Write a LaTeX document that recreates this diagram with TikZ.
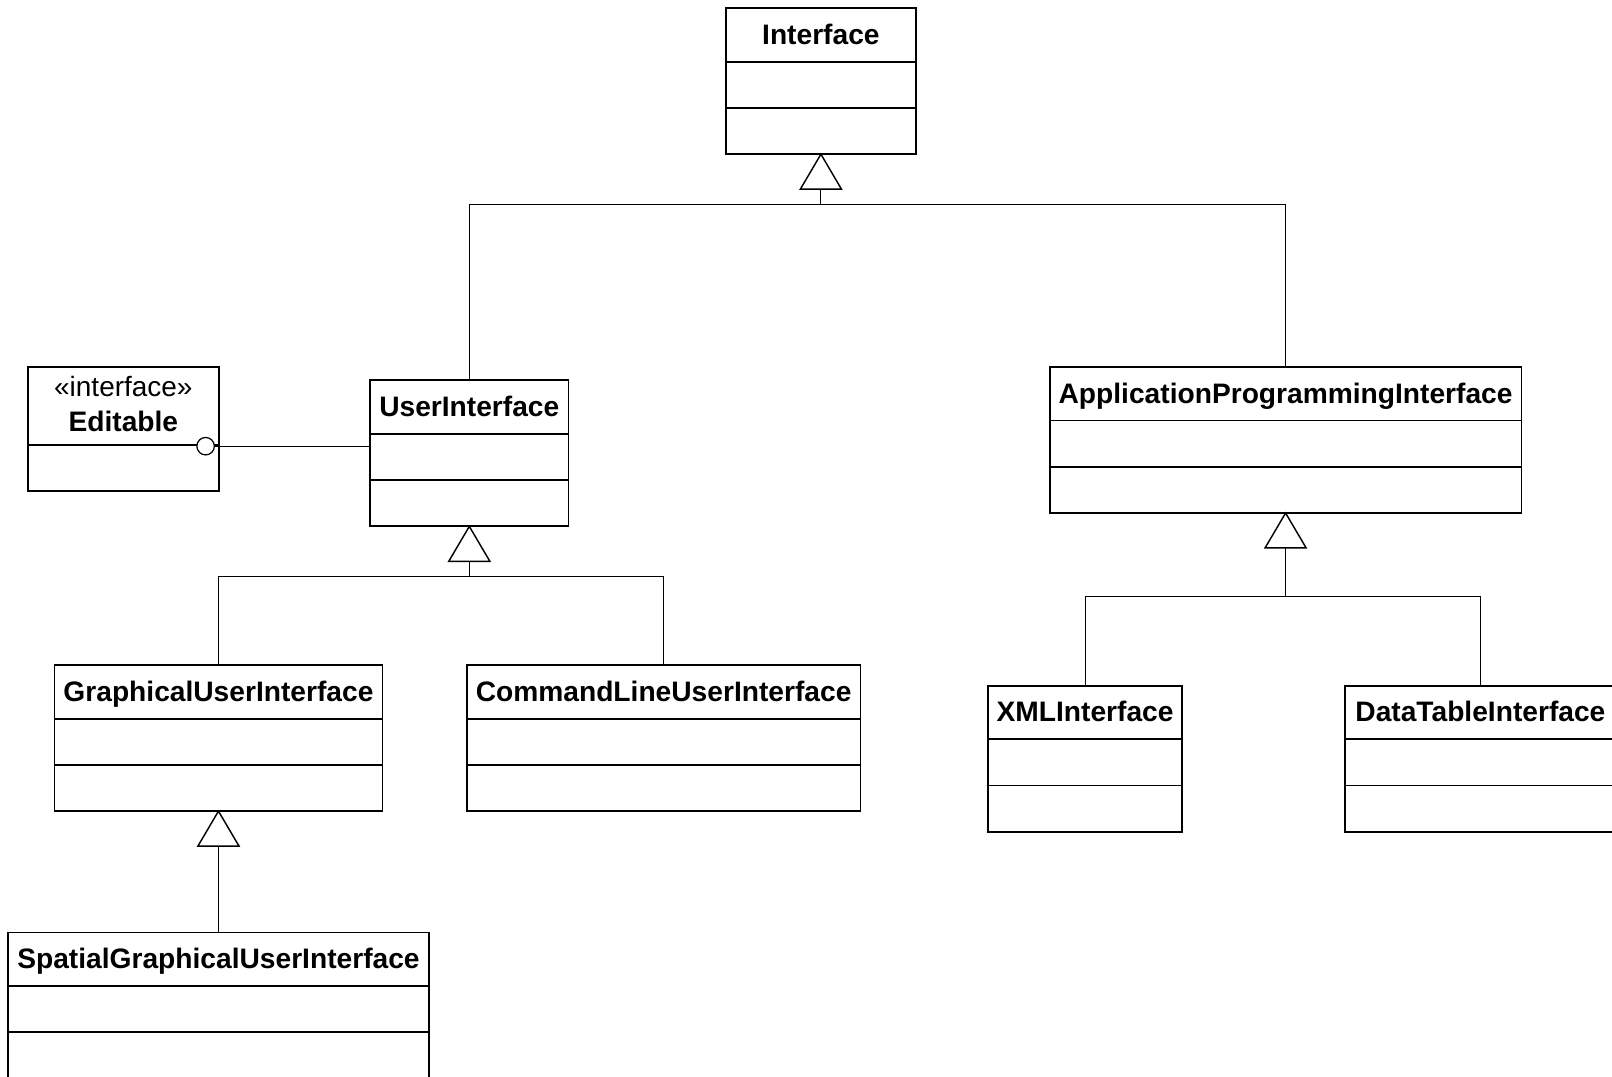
\documentclass[tikz,border=0pt]{standalone}
\usepackage{fontspec}
\setmainfont{Liberation Sans}
\usetikzlibrary{calc}
\tikzset{
  cls/.style={draw, line width=1.8pt, rectangle, inner sep=0pt, outer sep=0pt, anchor=north west, fill=white},
  ttl/.style={font=\fontsize{27.4}{32}\selectfont\bfseries, anchor=base, inner sep=0pt},
  stereo/.style={font=\fontsize{27.2}{32}\selectfont, anchor=base, inner sep=0pt},
  divider/.style={line width=1.8pt},
  conn/.style={line width=1pt},
  gen/.style={draw, line width=1.4pt, fill=white, line join=miter},
  lolly/.style={draw, circle, line width=1.2pt, fill=white, minimum size=17pt, inner sep=0pt, outer sep=0pt}
}
% \umlclass{id}{x1}{y1}{width}{title}
\newcommand\umlclass[5]{%
  \node[cls, minimum width=#4pt, minimum height=142pt] (#1) at (#2,#3) {};
  \draw[divider] ($(#1.north west)+(0,52)$) -- ($(#1.north east)+(0,52)$);
  \draw[divider] ($(#1.north west)+(0,97)$) -- ($(#1.north east)+(0,97)$);
  \node[ttl] (#1-t) at ($(#1.north)+(0,35)$) {#5};
}
% generalization triangle under a class
\newcommand\gentri[1]{%
  \draw[gen] (#1.south) -- ++(-20,34) -- ++(40,0) -- cycle;
  \coordinate (#1-b) at ($(#1.south)+(0,34)$);
}
\begin{document}
\begin{tikzpicture}[x=1pt, y=-1pt]
\useasboundingbox (0,0) rectangle (1568,1047);
\fill[white] (0,0) rectangle (1568,1047);

\umlclass{iface}{706}{8}{185}{Interface}
\umlclass{ui}{360}{370}{193}{UserInterface}
\umlclass{api}{1021}{357}{459}{ApplicationProgrammingInterface}
\umlclass{gui}{53}{647}{319}{GraphicalUserInterface}
\umlclass{clui}{454}{647}{383}{CommandLineUserInterface}
\umlclass{xml}{961}{667}{189}{XMLInterface}
\umlclass{dti}{1308}{667}{264}{DataTableInterface}
\umlclass{sgui}{8}{907}{409}{SpatialGraphicalUserInterface}

% Editable interface
\node[cls, minimum width=186pt, minimum height=121pt] (edit) at (27,357) {};
\draw[divider] ($(edit.north west)+(0,76)$) -- ($(edit.north east)+(0,76)$);
\node[stereo] (edit-s) at ($(edit.north)+(0,29)$) {«interface»};
\node[ttl] (edit-t) at ($(edit.north)+(0,63)$) {Editable};

% generalizations
\gentri{iface}
\gentri{ui}
\gentri{api}
\gentri{gui}

\coordinate (bus1) at (0,199);
\coordinate (bus2) at (0,561);
\coordinate (bus3) at (0,580);

\draw[conn] (iface-b) -- (iface-b |- bus1) -| (ui.north);
\draw[conn] (iface-b |- bus1) -| (api.north);
\draw[conn] (ui-b) -- (ui-b |- bus2) -| (gui.north);
\draw[conn] (ui-b |- bus2) -| (clui.north);
\draw[conn] (api-b) -- (api-b |- bus3) -| (xml.north);
\draw[conn] (api-b |- bus3) -| (dti.north);
\draw[conn] (gui-b) -- (sgui.north);

% realization lollipop
\node[lolly] (ball) at (200,434) {};
\draw[conn] (ball.east) -- (ball.east -| ui.west);
\end{tikzpicture}
\end{document}
